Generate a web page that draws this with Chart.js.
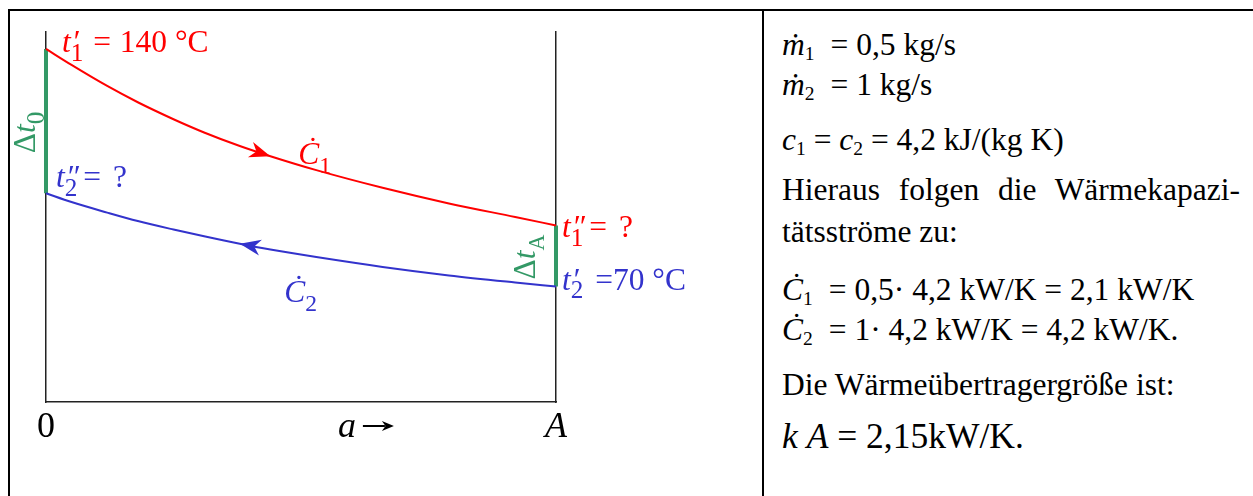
<!DOCTYPE html>
<html>
<head>
<meta charset="utf-8">
<script src="https://cdn.jsdelivr.net/npm/chart.js@4/dist/chart.umd.min.js"></script>
<style>
  body { margin: 0; background: #fff; }
  #page { position: relative; width: 1253px; height: 496px; overflow: hidden; font-family: "Liberation Serif", serif; }
  #frame { position: absolute; left: 8px; top: 9px; width: 1260px; height: 520px; border-left: 2px solid #000; border-top: 2px solid #000; box-sizing: border-box; }
  #divider { position: absolute; left: 762px; top: 9px; width: 2px; height: 500px; background: #000; }
  #plot { position: absolute; left: 0; top: 0; }
  .ln { position: absolute; left: 782px; font-size: 31.5px; line-height: 31px; white-space: nowrap; color: #000; }
  .ln sub { font-size: 0.62em; vertical-align: -0.25em; line-height: 0; }
  .gap { display: inline-block; width: 16px; }
  .just { width: 458px; text-align: justify; text-align-last: justify; white-space: normal; }
</style>
</head>
<body>
<div id="page">
  <div id="frame"></div>
  <div id="divider"></div>
  <canvas id="plot" width="760" height="496"></canvas>
  <div class="ln" style="top:29px"><i>ṁ</i><sub>1</sub><span class="gap"></span>= 0,5 kg/s</div>
  <div class="ln" style="top:69px"><i>ṁ</i><sub>2</sub><span class="gap"></span>= 1 kg/s</div>
  <div class="ln" style="top:124px"><i>c</i><sub>1</sub> = <i>c</i><sub>2</sub> = 4,2 kJ/(kg K)</div>
  <div class="ln just" style="top:174px">Hieraus folgen die Wärmekapazi-</div>
  <div class="ln" style="top:216px">tätsströme zu:</div>
  <div class="ln" style="top:274px"><i>Ċ</i><sub>1</sub><span class="gap"></span>= 0,5· 4,2 kW/K = 2,1 kW/K</div>
  <div class="ln" style="top:314px"><i>Ċ</i><sub>2</sub><span class="gap"></span>= 1· 4,2 kW/K = 4,2 kW/K.</div>
  <div class="ln" style="top:369px">Die Wärmeübertragergröße ist:</div>
  <div class="ln" style="top:419px; font-size:35.5px; line-height:35px"><i>k</i>&nbsp;<i>A</i> = 2,15kW/K.</div>
</div>
<script>
// position along the exchanger, a/A
const aPos = [0, 0.05, 0.12, 0.18, 0.25, 0.31, 0.38, 0.44, 0.53, 0.66, 0.79, 0.92, 1];
// hot stream 1 (°C), enters at a = 0
const hotTemp = [140, 135.3, 129.1, 124.3, 119.3, 115.4, 111.4, 108.4, 104.3, 99.1, 94.5, 90.5, 88];
// cold stream 2 (°C), enters at a = A (counterflow)
const coldTemp = [97.5, 94.9, 91.8, 89.3, 86.8, 84.8, 82.6, 80.9, 78.7, 75.8, 73.3, 71.2, 70];
// x axis ticks
const tickPos = [0, 0.59, 1];
const tickText = ['0', 'a', 'A'];

const RED = '#ff0000';
const BLUE = '#3333cc';
const GREEN = '#339966';
const FONT = '"Liberation Serif", serif';
const TICK_SIZE = 36;

const last = aPos.length - 1;
const pts = (ys) => aPos.map((a, i) => ({ x: a, y: ys[i] }));

// text with italics, primes and subscripts
function drawRich(ctx, x, y, size, color, parts) {
    ctx.fillStyle = color;
    ctx.textBaseline = 'alphabetic';
    ctx.textAlign = 'left';
    let cx = x;
    for (const p of parts) {
        const s = size * (p.scale || 1);
        ctx.font = (p.it ? 'italic ' : '') + s + 'px ' + FONT;
        const dy = p.sub ? size * 0.28 : 0;
        ctx.fillText(p.t, cx + (p.dx || 0), y + dy);
        if (!p.stay) cx += ctx.measureText(p.t).width + (p.dx || 0);
    }
    return cx;
}

function arrowHead(ctx, x, y, ang, len, half, color) {
    ctx.save();
    ctx.translate(x, y);
    ctx.rotate(ang);
    ctx.fillStyle = color;
    ctx.beginPath();
    ctx.moveTo(0, 0);
    ctx.lineTo(-len, -half);
    ctx.lineTo(-len * 0.7, 0);
    ctx.lineTo(-len, half);
    ctx.closePath();
    ctx.fill();
    ctx.restore();
}

// arrowheads showing the flow direction of each stream
const flowArrows = {
    id: 'flowArrows',
    afterDatasetsDraw(chart) {
        chart.data.datasets.forEach((ds, di) => {
            if (ds.arrowAt === undefined) return;
            const p = chart.getDatasetMeta(di).data;
            const tip = p[ds.arrowAt], from = p[ds.arrowFrom];
            const ang = Math.atan2(tip.y - from.y, tip.x - from.x);
            arrowHead(chart.ctx, tip.x, tip.y, ang, 21, 8, ds.borderColor);
        });
    }
};

// temperature and heat-capacity labels
const labels = {
    id: 'labels',
    afterDraw(chart) {
        const ctx = chart.ctx;
        const xs = chart.scales.x, ys = chart.scales.y;
        const x0 = xs.getPixelForValue(0), x1 = xs.getPixelForValue(1);
        const hotIn = ys.getPixelForValue(hotTemp[0]);
        const hotOut = ys.getPixelForValue(hotTemp[last]);
        const coldIn = ys.getPixelForValue(coldTemp[last]);
        const coldOut = ys.getPixelForValue(coldTemp[0]);
        const fs = 31.5;
        ctx.save();
        drawRich(ctx, x0 + 16, hotIn + 3, fs, RED, [
            { t: 't', it: true }, { t: '′', it: true, stay: true, dx: 1 }, { t: '1', sub: true, scale: 0.8 },
            { t: ' = ', dx: 2 }, { t: hotTemp[0] + ' °C', dx: 1 }
        ]);
        drawRich(ctx, x0 + 10, coldOut - 6, fs, BLUE, [
            { t: 't', it: true }, { t: '″', it: true, stay: true, dx: 1 }, { t: '2', sub: true, scale: 0.8 },
            { t: '=', dx: 6 }, { t: ' ?', dx: 4 }
        ]);
        drawRich(ctx, x1 + 6, hotOut + 12, fs, RED, [
            { t: 't', it: true }, { t: '″', it: true, stay: true, dx: 1 }, { t: '1', sub: true, scale: 0.8 },
            { t: '=', dx: 6 }, { t: ' ?', dx: 4 }
        ]);
        drawRich(ctx, x1 + 6, coldIn + 3, fs, BLUE, [
            { t: 't', it: true }, { t: '′', it: true, stay: true, dx: 1 }, { t: '2', sub: true, scale: 0.8 },
            { t: ' =' + coldTemp[last] + ' °C', dx: 4 }
        ]);
        // heat capacity rates beside the curves
        const hp = chart.getDatasetMeta(0).data, cp = chart.getDatasetMeta(1).data;
        drawRich(ctx, hp[8].x - 18, hp[8].y - 6, fs, RED, [
            { t: 'Ċ', it: true }, { t: '1', sub: true, scale: 0.75 }
        ]);
        drawRich(ctx, cp[8].x - 32, cp[8].y + 45, fs, BLUE, [
            { t: 'Ċ', it: true }, { t: '2', sub: true, scale: 0.75 }
        ]);
        // arrow after the running coordinate a
        ctx.font = 'italic ' + TICK_SIZE + 'px ' + FONT;
        const ax = xs.getPixelForValue(tickPos[1]) + ctx.measureText(tickText[1]).width / 2 + 7;
        const ay = chart.chartArea.bottom + 24;
        ctx.strokeStyle = '#000';
        ctx.lineWidth = 2;
        ctx.beginPath();
        ctx.moveTo(ax, ay);
        ctx.lineTo(ax + 22, ay);
        ctx.stroke();
        arrowHead(ctx, ax + 31, ay, 0, 12, 5, '#000');
        ctx.restore();
        // temperature differences at both ends
        ctx.save();
        ctx.translate(x0 - 11, coldOut - 40);
        ctx.rotate(-Math.PI / 2);
        drawRich(ctx, 0, 0, fs, GREEN, [{ t: 'Δ' }, { t: 't', it: true }, { t: '0', sub: true, scale: 0.8 }]);
        ctx.restore();
        ctx.save();
        ctx.translate(x1 - 21, coldIn - 7);
        ctx.rotate(-Math.PI / 2);
        drawRich(ctx, 0, 0, fs, GREEN, [{ t: 'Δ' }, { t: 't', it: true }, { t: 'A', sub: true, scale: 0.7 }]);
        ctx.restore();
    }
};

const curve = { borderWidth: 2, tension: 0.4, cubicInterpolationMode: 'monotone', pointRadius: 0, clip: false };

new Chart(document.getElementById('plot'), {
    type: 'line',
    data: {
        datasets: [
            { ...curve, data: pts(hotTemp), borderColor: RED, arrowAt: 7, arrowFrom: 6 },
            { ...curve, data: pts(coldTemp), borderColor: BLUE, arrowAt: 6, arrowFrom: 7 },
            // Δt0 and ΔtA
            { data: [{ x: 0, y: hotTemp[0] }, { x: 0, y: coldTemp[0] }], borderColor: GREEN, borderWidth: 4, pointRadius: 0, clip: false },
            { data: [{ x: 1, y: hotTemp[last] }, { x: 1, y: coldTemp[last] }], borderColor: GREEN, borderWidth: 4, pointRadius: 0, clip: false }
        ]
    },
    options: {
        responsive: false,
        animation: false,
        layout: { padding: { left: 46, right: 204, top: 32, bottom: 0 } },
        plugins: { legend: { display: false }, tooltip: { enabled: false } },
        scales: {
            x: {
                type: 'linear',
                min: 0, max: 1,
                afterFit: (s) => { s.height = 94; },
                afterBuildTicks: (s) => { s.ticks = tickPos.map(v => ({ value: v })); },
                grid: { display: false },
                border: { display: true, color: '#222', width: 1.5 },
                ticks: {
                    padding: -4,
                    color: '#000',
                    autoSkip: false,
                    maxRotation: 0,
                    callback: (v, i) => tickText[i],
                    font: (c) => ({ family: FONT, size: TICK_SIZE, style: c.index === 0 ? 'normal' : 'italic' })
                }
            },
            y: {
                min: 36, max: 145,
                afterFit: (s) => { s.width = 0; },
                grid: { display: false },
                ticks: { display: false },
                border: { display: true, color: '#222', width: 1.5 }
            },
            yR: {
                position: 'right',
                min: 0, max: 1,
                afterFit: (s) => { s.width = 0; },
                grid: { display: false },
                ticks: { display: false },
                border: { display: true, color: '#222', width: 1.5 }
            }
        }
    },
    plugins: [flowArrows, labels]
});
</script>
</body>
</html>
